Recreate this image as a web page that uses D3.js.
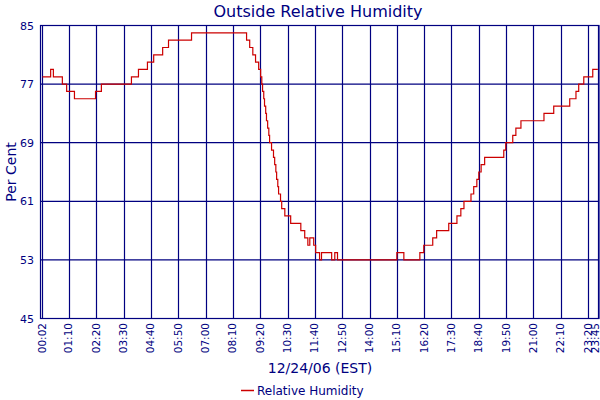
<!DOCTYPE html>
<html><head><meta charset="utf-8">
<script src="https://cdn.jsdelivr.net/npm/d3@7"></script>
<style>body{margin:0;background:#fff}svg{display:block}</style>
</head><body><svg id="c" width="600" height="400"></svg>
<script>
const tickLabels=["00:02","01:10","02:20","03:30","04:40","05:50","07:00","08:10","09:20","10:30","11:40","12:50","14:00","15:10","16:20","17:30","18:40","19:50","21:00","22:10","23:20","23:45"];
const yTicks=[45,53,61,69,77,85];
const minutes=[2,23,30,53,64,84,138,153,230,248,271,287,310,325,384,525,533,541,548,556,561,564,566,569,571,574,576,579,582,584,589,594,597,600,602,605,607,612,615,623,638,664,674,682,687,697,702,712,717,743,751,758,910,928,969,979,1002,1012,1043,1064,1074,1082,1100,1107,1115,1120,1126,1135,1184,1189,1207,1215,1228,1287,1312,1353,1369,1376,1389,1412,1425];
const humidity=[78,79,78,77,76,75,76,77,78,79,80,81,82,83,84,83,82,81,80,79,78,77,76,75,74,73,72,71,70,69,68,67,66,65,64,63,62,61,60,59,58,57,56,55,56,55,54,53,54,53,54,53,54,53,54,55,56,57,58,59,60,61,62,63,64,65,66,67,68,69,70,71,72,73,74,75,76,77,78,79,79];
const navy="#000080";
const svg=d3.select("#c");
const toMin=s=>{const [h,m]=s.split(":").map(Number);return h*60+m;};
const x=d3.scaleLinear().domain([-3,1428]).range([40.5,599]);
const y=d3.scaleLinear().domain([45,85]).range([318.5,25.5]);
const g=svg.append("g");
g.selectAll(".h").data(yTicks).join("line").attr("x1",40.5).attr("x2",599).attr("y1",d=>y(d)).attr("y2",d=>y(d)).attr("stroke",navy).attr("stroke-width",1.2);
g.selectAll(".v").data(tickLabels).join("line").attr("x1",d=>Math.round(x(toMin(d)))+0.5).attr("x2",d=>Math.round(x(toMin(d)))+0.5).attr("y1",25.5).attr("y2",318.5).attr("stroke",navy).attr("stroke-width",1.2);
g.append("rect").attr("x",40.5).attr("y",25.5).attr("width",558.5).attr("height",293).attr("fill","none").attr("stroke",navy).attr("stroke-width",1.2);
const data=minutes.map((m,i)=>[m,humidity[i]]);
g.append("path").datum(data).attr("d",d3.line().x(d=>x(d[0])).y(d=>y(d[1])).curve(d3.curveStepAfter)).attr("fill","none").attr("stroke","#cc0000").attr("stroke-width",1.2);
g.selectAll(".yl").data(yTicks).join("text").attr("x",34).attr("y",d=>y(d)+4).attr("text-anchor","end").attr("font-family","DejaVu Sans").attr("font-size",11).attr("fill",navy).text(d=>d);
g.selectAll(".xl").data(tickLabels).join("text").attr("transform",d=>`translate(${Math.min(x(toMin(d))+3.5,599)},${323}) rotate(-90)`).attr("text-anchor","end").attr("font-family","DejaVu Sans").attr("font-size",10.5).attr("fill",navy).text(d=>d);
svg.append("text").attr("x",318).attr("y",17).attr("text-anchor","middle").attr("font-family","DejaVu Sans").attr("font-size",16).attr("fill",navy).text("Outside Relative Humidity");
svg.append("text").attr("transform","translate(16,172) rotate(-90)").attr("text-anchor","middle").attr("font-family","DejaVu Sans").attr("font-size",14).attr("fill",navy).text("Per Cent");
svg.append("text").attr("x",320).attr("y",373).attr("text-anchor","middle").attr("font-family","DejaVu Sans").attr("font-size",14).attr("fill",navy).text("12/24/06 (EST)");
svg.append("line").attr("x1",241).attr("x2",254).attr("y1",390.5).attr("y2",390.5).attr("stroke","#cc0000").attr("stroke-width",1.5);
svg.append("text").attr("x",257).attr("y",395).attr("font-family","DejaVu Sans").attr("font-size",12).attr("fill",navy).text("Relative Humidity");
</script></body></html>
